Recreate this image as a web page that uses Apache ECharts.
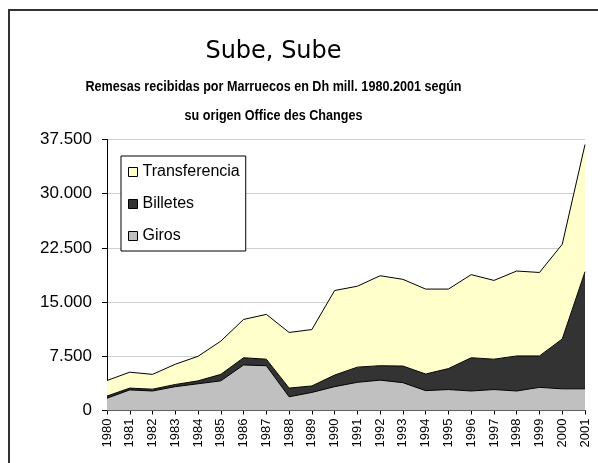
<!DOCTYPE html>
<html>
<head>
<meta charset="utf-8">
<script src="https://cdn.jsdelivr.net/npm/echarts@6/dist/echarts.min.js"></script>
<style>
html,body{margin:0;padding:0;background:#fff;}
#c{width:598px;height:463px;}
</style>
</head>
<body>
<div id="c"></div>
<script>
var years = ['1980','1981','1982','1983','1984','1985','1986','1987','1988','1989','1990','1991','1992','1993','1994','1995','1996','1997','1998','1999','2000','2001'];
var giros = [1700,2850,2700,3300,3700,4100,6300,6200,1900,2500,3300,3900,4200,3850,2750,2900,2700,2900,2700,3200,3000,3000];
var billetes = [300,250,250,300,400,900,1000,900,1200,900,1600,2100,2000,2300,2300,2900,4600,4200,4850,4350,6900,16200];
var transferencia = [2150,2200,2050,2800,3400,4600,5300,6200,7700,7800,11700,11200,12450,12000,11750,11000,11500,10900,11750,11550,13100,17600];
var yTickLabels = ['0','7.500','15.000','22.500','30.000','37.500'];
var yStep = 7500;

var chart = echarts.init(document.getElementById('c'), null, {renderer:'canvas'});
function areaSeries(name, data, color){
  return {
    name: name, type: 'line', stack: 'total', data: data,
    showSymbol: false, symbol: 'none',
    lineStyle: {color: '#000', width: 1},
    itemStyle: {color: color, borderColor: '#000', borderWidth: 1},
    areaStyle: {color: color, opacity: 1},
    emphasis: {disabled: true},
    animation: false
  };
}
var subFont = "bold 15px 'Liberation Sans'";
chart.setOption({
  animation: false,
  backgroundColor: '#fff',
  graphic: [
    {type:'rect', shape:{x:9, y:10, width:700, height:600}, style:{fill:'none', stroke:'#333', lineWidth:2}, z:-1},
    {type:'text', x:273.5, y:52, style:{text:'Sube, Sube', fill:'#000', font:"24px 'DejaVu Sans'", textAlign:'center', textVerticalAlign:'middle'}},
    {type:'text', x:273.5, y:86.5, scaleX:0.84, style:{x:0, y:0, text:'Remesas recibidas por Marruecos en Dh mill. 1980.2001 según', fill:'#000', font:subFont, textAlign:'center', textVerticalAlign:'middle'}},
    {type:'text', x:273.5, y:115.5, scaleX:0.84, style:{x:0, y:0, text:'su origen Office des Changes', fill:'#000', font:subFont, textAlign:'center', textVerticalAlign:'middle'}}
  ],
  grid: {left:107, right:13, top:139.5, bottom:52.5, containLabel:false},
  legend: {
    data: ['Transferencia','Billetes','Giros'],
    orient: 'vertical', left: 121, top: 156,
    backgroundColor: '#fff', borderColor: '#000', borderWidth: 1,
    padding: [7, 6, 6, 7], itemGap: 14,
    itemWidth: 9, itemHeight: 9, icon: 'rect',
    itemStyle: {borderColor:'#000', borderWidth:1},
    textStyle: {fontSize:16, lineHeight:18, fontFamily:'Liberation Sans', color:'#000'}
  },
  xAxis: {
    type: 'category', data: years, boundaryGap: false,
    axisLine: {lineStyle:{color:'#000', width:1}},
    axisTick: {show:true, length:4, alignWithLabel:true, lineStyle:{color:'#000'}},
    axisLabel: {rotate:90, fontSize:13, fontFamily:'Liberation Sans', color:'#000', margin:8, interval:0},
    splitLine: {show:false}
  },
  yAxis: {
    type: 'value', min: 0, max: 37500, interval: yStep,
    axisLine: {show:true, lineStyle:{color:'#000', width:1}},
    axisTick: {show:true, length:5, lineStyle:{color:'#000'}},
    axisLabel: {fontSize:17, fontFamily:'Liberation Sans', color:'#000', margin:15,
      formatter: function(v){ return yTickLabels[Math.round(v/yStep)]; }},
    splitLine: {show:true, lineStyle:{color:'#cfcfcf', width:1}}
  },
  series: [
    areaSeries('Giros', giros, '#c0c0c0'),
    areaSeries('Billetes', billetes, '#333333'),
    areaSeries('Transferencia', transferencia, '#ffffcc')
  ]
});
</script>
</body>
</html>
